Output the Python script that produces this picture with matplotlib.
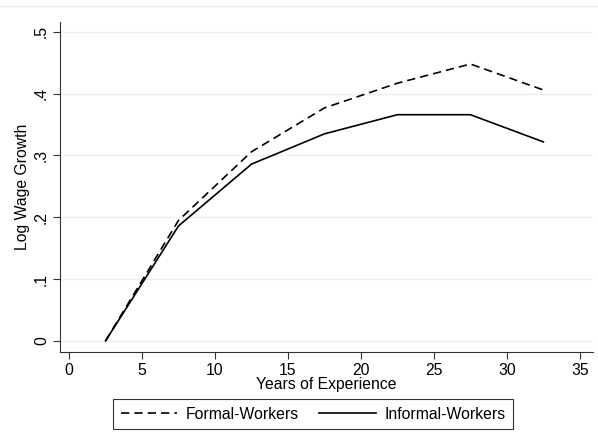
import matplotlib
matplotlib.use("Agg")
import matplotlib.pyplot as plt
from matplotlib.lines import Line2D

plt.rcParams['font.family'] = ['Liberation Sans', 'DejaVu Sans']

experience = [2.5, 7.5, 12.5, 17.5, 22.5, 27.5, 32.5]
formal = [0.0, 0.195, 0.306, 0.377, 0.417, 0.448, 0.406]
informal = [0.0, 0.186, 0.286, 0.335, 0.366, 0.366, 0.322]
xticks = [0, 5, 10, 15, 20, 25, 30, 35]
yticks = [0, 0.1, 0.2, 0.3, 0.4, 0.5]
ytick_labels = ['0', '.1', '.2', '.3', '.4', '.5']

FS = 11.3

fig = plt.figure(figsize=(5.98, 4.48), dpi=100)
fig.add_artist(Line2D([0, 1], [1 - 6/448, 1 - 6/448], transform=fig.transFigure,
                      color='#e6eef0', lw=1.0))
ax = fig.add_axes([60/598, 96/448, 533/598, 330/448])

for y in yticks:
    ax.axhline(y, color='#eaf2f3', lw=1.0, zorder=0)

l1, = ax.plot(experience, formal, color='black', lw=1.2, ls=(0, (5, 3)), label='Formal-Workers')
l2, = ax.plot(experience, informal, color='black', lw=1.2, ls='-', label='Informal-Workers')

ax.set_xlim(-0.62, 35.9)
ax.set_ylim(-0.018, 0.516)
ax.set_xticks(xticks)
ax.set_xticklabels([str(t) for t in xticks], fontsize=FS)
ax.set_yticks(yticks)
ax.set_yticklabels(ytick_labels, fontsize=FS, rotation=90, va='center')
ax.spines['top'].set_visible(False)
ax.spines['right'].set_visible(False)
ax.spines['left'].set_color('#333333')
ax.spines['bottom'].set_color('#333333')
ax.tick_params(length=5, width=0.8, color='#333333', pad=3)
ax.set_xlabel('Years of Experience', fontsize=FS, labelpad=-1)
ax.set_ylabel('Log Wage Growth', fontsize=FS, labelpad=3)

leg = fig.legend(handles=[l1, l2], loc='center', bbox_to_anchor=(313/598, 1 - 414/448),
                 ncol=2, frameon=True, fancybox=False, fontsize=FS,
                 handlelength=3.6, handletextpad=0.55, columnspacing=1.3,
                 borderpad=0.45, borderaxespad=0, edgecolor='black')
leg.get_frame().set_linewidth(0.8)

fig.savefig('out.png', dpi=100)
